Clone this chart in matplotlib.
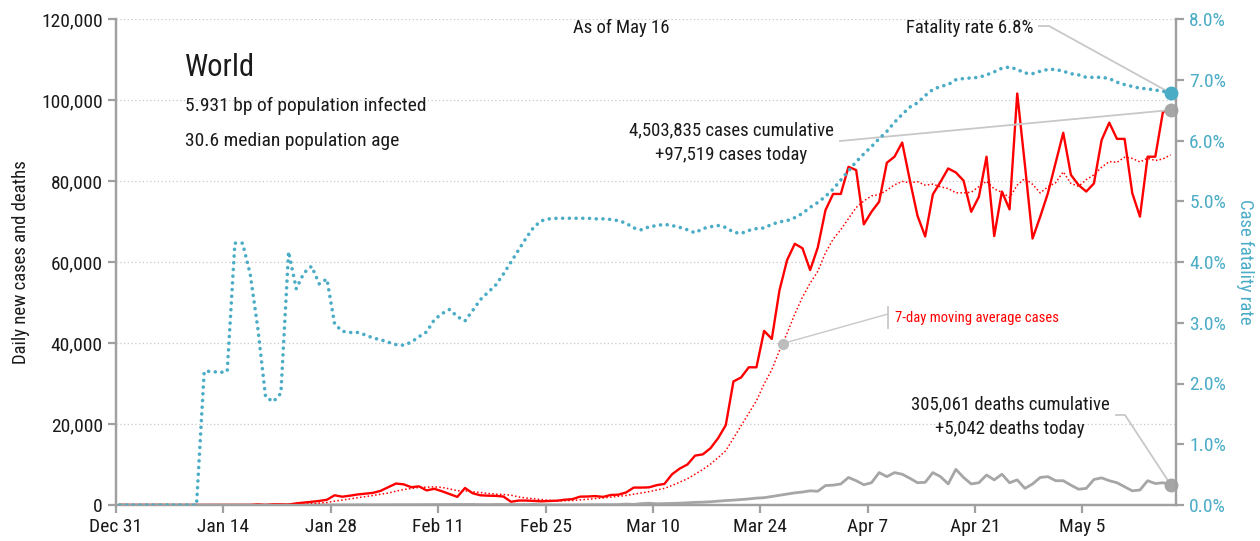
"""World COVID-19 daily cases, deaths and case fatality rate (as of May 16)."""

import matplotlib
matplotlib.use("Agg")
import matplotlib.pyplot as plt
import numpy as np
import pandas as pd

plt.rcParams["font.family"] = ["Roboto Condensed", "Liberation Sans Narrow", "DejaVu Sans"]

# --- data (day 0 = Dec 31) --------------------------------------------------
cases = [
    27, 0, 0, 17, 0, 15, 0, 0, 0, 0, 0, 0, 0, 1, 0, 0, 4, 17, 136, 19,
    151, 140, 97, 400, 600, 800, 1000, 1300, 2400, 2050, 2300, 2600, 2800, 3000,
    3500, 4400, 5300, 5100, 4400, 4600, 3600, 4000, 3400, 2700, 2000, 4200, 2900,
    2400, 2300, 2250, 2100, 800, 1100, 1100, 1000, 900, 1000, 1070, 1300, 1450,
    2060, 2100, 2200, 2000, 2470, 2550, 3100, 4300, 4300, 4360, 4900, 5200, 7600,
    9000, 10000, 12200, 12500, 14000, 16500, 19700, 30500, 31500, 34000, 34000,
    43000, 41000, 53000, 60500, 64500, 63400, 58000, 63600, 72800, 76800, 76800,
    83500, 82700, 69300, 72400, 74900, 84500, 86000, 89500, 80200, 71400, 66300,
    76700, 79800, 83100, 82100, 80100, 72400, 76100, 86000, 66400, 77400, 73000,
    101600, 84000, 65800, 71200, 77000, 84400, 91900, 81500, 79000, 77400, 79400,
    90100, 94400, 90400, 90400, 77000, 71200, 86000, 86000, 97100, 97519,
]
deaths = [
    0, 0, 0, 0, 0, 0, 0, 0, 0, 0, 0, 1, 0, 0, 0, 0, 0, 1, 1, 0,
    3, 6, 8, 16, 14, 26, 26, 25, 25, 38, 43, 46, 45, 57, 64, 65, 73, 73, 86, 89,
    97, 108, 97, 146, 121, 143, 142, 105, 98, 136, 114, 118, 109, 97, 150, 71,
    52, 29, 44, 37, 58, 67, 70, 70, 103, 101, 230, 155, 344, 442,
    300, 350, 400, 450, 550, 650, 700, 800, 950, 1100, 1200, 1350, 1500, 1700,
    1800, 2100, 2400, 2700, 3000, 3200, 3500, 3400, 4800, 4900, 5200, 6800, 6000,
    5000, 5500, 8000, 7000, 8000, 7600, 6600, 5500, 5600, 8000, 7000, 5200, 8800,
    6800, 5200, 5500, 7400, 6200, 7600, 5500, 6200, 4100, 5200, 6800, 7000, 6000,
    6000, 4900, 3900, 4100, 6300, 6700, 6000, 5500, 4500, 3500, 3700, 6000, 5300,
    5500, 5042,
]
fatality_pct = [
    0, 0, 0, 0, 0, 0, 0, 0, 0, 0, 0, 2.2, 2.2, 2.18, 2.2, 4.31, 4.31, 3.8, 2.9,
    1.78, 1.7, 1.84, 4.17, 3.56, 3.82, 3.93, 3.64, 3.72, 2.98, 2.86, 2.84, 2.84,
    2.8, 2.75, 2.72, 2.68, 2.64, 2.63, 2.68, 2.77, 2.85, 3.05, 3.15, 3.22, 3.1,
    3.03, 3.2, 3.38, 3.5, 3.62, 3.8, 4.0, 4.2, 4.4, 4.58, 4.68, 4.71, 4.72, 4.72,
    4.72, 4.72, 4.72, 4.71, 4.71, 4.7, 4.68, 4.64, 4.56, 4.53, 4.58, 4.6, 4.62,
    4.6, 4.57, 4.53, 4.48, 4.55, 4.58, 4.6, 4.57, 4.49, 4.47, 4.52, 4.55, 4.56,
    4.62, 4.66, 4.68, 4.73, 4.8, 4.9, 4.98, 5.08, 5.2, 5.35, 5.5, 5.65, 5.78, 5.9,
    6.03, 6.15, 6.3, 6.43, 6.55, 6.62, 6.74, 6.84, 6.89, 6.92, 7.0, 7.02, 7.03,
    7.04, 7.08, 7.13, 7.19, 7.21, 7.17, 7.11, 7.1, 7.14, 7.17, 7.17, 7.14, 7.1,
    7.08, 7.04, 7.04, 7.04, 7.02, 6.96, 6.92, 6.89, 6.86, 6.85, 6.83, 6.81, 6.78,
]
tick_days = [0, 14, 28, 42, 56, 70, 84, 98, 112, 126]
tick_labels = ["Dec 31", "Jan 14", "Jan 28", "Feb 11", "Feb 25", "Mar 10",
               "Mar 24", "Apr 7", "Apr 21", "May 5"]

CASE_RED = "#FF0000"
DEATH_GRAY = "#A6A6A6"
CFR_TEAL = "#4BACC6"
LINE_GRAY = "#C8C8C8"
SPINE_GRAY = "#A0A0A0"
TEXT = "#1A1A1A"

W, H = 1260, 541


def main() -> None:
    assert len(cases) == len(deaths) == len(fatality_pct) == 138
    day = np.arange(len(cases)) + 0.5
    ma7 = pd.Series(cases).rolling(7, min_periods=1).mean()

    fig = plt.figure(figsize=(W / 100, H / 100), dpi=100)
    ax = fig.add_axes([116 / W, 36 / H, 1060 / W, 486 / H])
    ax2 = ax.twinx()

    ax.set_xlim(0, 138.2)
    ax.set_ylim(0, 120000)
    ax2.set_ylim(0, 8)

    ax.set_yticks(np.arange(0, 120001, 20000))
    ax.set_yticklabels([f"{v:,}" for v in range(0, 120001, 20000)])
    ax2.set_yticks(np.arange(0, 9))
    ax2.set_yticklabels([f"{v:.1f}%" for v in range(0, 9)])
    ax.set_xticks(tick_days)
    ax.set_xticklabels(tick_labels)

    for a in (ax, ax2):
        a.spines["top"].set_visible(False)
        for s in ("left", "right", "bottom"):
            a.spines[s].set_color(SPINE_GRAY)
            a.spines[s].set_linewidth(1.6)
    ax.tick_params(axis="both", colors=SPINE_GRAY, width=1.6, length=6,
                   labelsize=14, labelcolor=TEXT)
    ax2.tick_params(axis="y", colors=SPINE_GRAY, width=1.6, length=6,
                    labelsize=14, labelcolor=CFR_TEAL)

    for v in range(20000, 120001, 20000):
        ax.axhline(v, color=LINE_GRAY, lw=0.9, ls=(0, (1, 2)), zorder=0)

    ax.set_ylabel("Daily new cases and deaths", fontsize=13.5, color=TEXT, labelpad=8)
    ax2.set_ylabel("Case fatality rate", fontsize=13.5, color=CFR_TEAL,
                   rotation=270, labelpad=20)

    ax.plot(day, deaths, color=DEATH_GRAY, lw=2.0, zorder=3)
    ax.plot(day, ma7, color=CASE_RED, lw=1.1, ls=(0, (1, 1.5)), zorder=3)
    ax.plot(day, cases, color=CASE_RED, lw=1.7, zorder=4)
    ax2.plot(day, fatality_pct, color=CFR_TEAL, lw=2.6, ls=(0, (0.01, 1.85)),
             dash_capstyle="round", zorder=3)

    # end-point markers
    ax.plot(day[-1], cases[-1], "o", color=DEATH_GRAY, ms=9, zorder=6, clip_on=False)
    ax.plot(day[-1], deaths[-1], "o", color=DEATH_GRAY, ms=9, zorder=6, clip_on=False)
    ax2.plot(day[-1], fatality_pct[-1], "o", color=CFR_TEAL, ms=9, zorder=6, clip_on=False)

    # moving-average callout dot
    ma_x = 86.9
    ma_y = np.interp(ma_x, day, ma7.values)
    ax.plot(ma_x, ma_y, "o", color="#BDBDBD", ms=7, zorder=6)

    inv = ax.transData.inverted()

    def pdat(xp, yp):
        return inv.transform((xp, H - yp))

    # cases callout
    cx, cy = pdat(840, 141)
    ax.plot([cx, day[-1]], [cy, cases[-1]], color=LINE_GRAY, lw=1.3, zorder=5)
    # deaths callout
    dpts = np.array([pdat(1116, 415), pdat(1125, 415)])
    ax.plot(list(dpts[:, 0]) + [day[-1]], list(dpts[:, 1]) + [deaths[-1]],
            color=LINE_GRAY, lw=1.3, zorder=5)
    # fatality callout (end point lives on the right axis)
    fx0, fy0 = pdat(1039, 26)
    fx1, fy1 = pdat(1049, 26)
    end_disp = ax2.transData.transform((day[-1], fatality_pct[-1]))
    fx2, fy2 = inv.transform(end_disp)
    ax.plot([fx0, fx1, fx2], [fy0, fy1, fy2], color=LINE_GRAY, lw=1.3,
            zorder=5, clip_on=False)
    # moving average callout
    bx0, by0 = pdat(888, 307)
    bx1, by1 = pdat(888, 328)
    ax.plot([bx0, bx1], [by0, by1], color=LINE_GRAY, lw=1.3, zorder=5)
    lx, ly = pdat(888, 314)
    ax.plot([lx, ma_x], [ly, ma_y], color=LINE_GRAY, lw=1.0, zorder=5)

    def ftext(xp, yp, s, **kw):
        fig.text(xp / W, 1 - yp / H, s, color=kw.pop("color", TEXT), **kw)

    ftext(185, 67, "World", fontsize=22, va="center", ha="left")
    ftext(185, 106, "5.931 bp of population infected", fontsize=14, va="center")
    ftext(185, 141, "30.6 median population age", fontsize=14, va="center")
    ftext(621, 28, "As of May 16", fontsize=13.5, va="center", ha="center")
    ftext(1034, 28, "Fatality rate 6.8%", fontsize=13.5, va="center", ha="right")
    ftext(731, 130, "4,503,835 cases cumulative", fontsize=13.5, va="center", ha="center")
    ftext(731, 155, "+97,519 cases today", fontsize=13.5, va="center", ha="center")
    ftext(1010, 404, "305,061 deaths cumulative", fontsize=13.5, va="center", ha="center")
    ftext(1010, 429, "+5,042 deaths today", fontsize=13.5, va="center", ha="center")
    ftext(895, 318, "7-day moving average cases", fontsize=10.5, va="center",
          ha="left", color=CASE_RED)

    fig.savefig("out.png", dpi=100, facecolor="white")
    plt.close(fig)


if __name__ == "__main__":
    main()
